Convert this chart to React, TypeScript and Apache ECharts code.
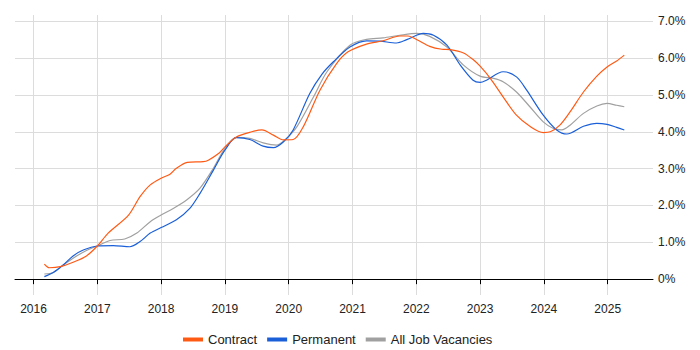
import React, { useEffect, useRef } from "react";
import * as echarts from "echarts";

const yearTicks = [2016, 2017, 2018, 2019, 2020, 2021, 2022, 2023, 2024, 2025];
const percentTicks = [0, 1, 2, 3, 4, 5, 6, 7];

const contract: [number, number][] = [
  [2016.17, 0.41], [2016.25, 0.31], [2016.42, 0.34], [2016.65, 0.48], [2016.83, 0.63],
  [2017.0, 0.9], [2017.17, 1.25], [2017.49, 1.74], [2017.67, 2.24], [2017.83, 2.56],
  [2018.0, 2.74], [2018.14, 2.85], [2018.24, 3.01], [2018.41, 3.17], [2018.66, 3.19],
  [2018.74, 3.23], [2018.9, 3.41], [2019.0, 3.59], [2019.18, 3.86], [2019.42, 4.0],
  [2019.58, 4.05], [2019.76, 3.91], [2019.92, 3.78], [2020.07, 3.79], [2020.23, 4.14],
  [2020.49, 5.13], [2020.75, 5.85], [2020.93, 6.17], [2021.22, 6.38], [2021.48, 6.47],
  [2021.74, 6.6], [2021.87, 6.6], [2022.01, 6.5], [2022.21, 6.32], [2022.4, 6.24],
  [2022.53, 6.23], [2022.74, 6.14], [2022.89, 5.96], [2023.0, 5.78], [2023.16, 5.45],
  [2023.36, 4.95], [2023.57, 4.45], [2023.78, 4.15], [2023.99, 3.98], [2024.1, 4.0],
  [2024.25, 4.18], [2024.41, 4.54], [2024.62, 5.08], [2024.83, 5.51], [2024.99, 5.76],
  [2025.14, 5.92], [2025.26, 6.08],
];

const permanent: [number, number][] = [
  [2016.17, 0.07], [2016.31, 0.18], [2016.47, 0.39], [2016.62, 0.63], [2016.78, 0.79],
  [2017.0, 0.9], [2017.25, 0.91], [2017.51, 0.88], [2017.67, 1.02], [2017.83, 1.25],
  [2018.0, 1.4], [2018.24, 1.61], [2018.45, 1.92], [2018.61, 2.33], [2018.82, 2.96],
  [2019.0, 3.5], [2019.18, 3.84], [2019.39, 3.79], [2019.6, 3.61], [2019.76, 3.57],
  [2019.92, 3.73], [2020.07, 4.05], [2020.33, 5.04], [2020.52, 5.56], [2020.7, 5.9],
  [2020.96, 6.3], [2021.22, 6.47], [2021.43, 6.46], [2021.69, 6.41], [2021.85, 6.5],
  [2022.11, 6.67], [2022.27, 6.62], [2022.48, 6.35], [2022.69, 5.81], [2022.89, 5.4],
  [2023.0, 5.34], [2023.1, 5.4], [2023.36, 5.63], [2023.57, 5.49], [2023.73, 5.13],
  [2023.99, 4.45], [2024.2, 4.05], [2024.36, 3.94], [2024.62, 4.15], [2024.83, 4.23],
  [2024.99, 4.2], [2025.14, 4.12], [2025.26, 4.05],
];

const allJobs: [number, number][] = [
  [2016.17, 0.14], [2016.31, 0.18], [2016.47, 0.39], [2016.62, 0.57], [2016.83, 0.78],
  [2017.0, 0.9], [2017.2, 1.05], [2017.43, 1.09], [2017.62, 1.25], [2017.83, 1.56],
  [2018.0, 1.74], [2018.19, 1.92], [2018.4, 2.15], [2018.61, 2.47], [2018.82, 3.01],
  [2019.0, 3.55], [2019.18, 3.85], [2019.39, 3.82], [2019.6, 3.7], [2019.81, 3.64],
  [2019.94, 3.78], [2020.13, 4.14], [2020.39, 4.95], [2020.6, 5.63], [2020.96, 6.35],
  [2021.22, 6.51], [2021.48, 6.55], [2021.74, 6.62], [2022.01, 6.67], [2022.21, 6.59],
  [2022.48, 6.3], [2022.74, 5.81], [2023.0, 5.51], [2023.21, 5.45], [2023.36, 5.36],
  [2023.57, 5.08], [2023.78, 4.68], [2023.99, 4.27], [2024.15, 4.09], [2024.28, 4.05],
  [2024.41, 4.18], [2024.62, 4.5], [2024.83, 4.7], [2024.99, 4.77], [2025.14, 4.72],
  [2025.26, 4.68],
];

const FONT = "'Liberation Sans', Arial, sans-serif";

export default function App() {
  const ref = useRef<HTMLDivElement>(null);
  useEffect(() => {
    if (!ref.current) return;
    const chart = echarts.init(ref.current, undefined, { renderer: "svg" });
    const mk = (name: string, color: string, data: [number, number][]) => ({
      name,
      type: "line",
      data,
      smooth: 0.3,
      showSymbol: false,
      symbol: "none",
      lineStyle: { color, width: 1.2 },
      itemStyle: { color },
    });
    chart.setOption({
      animation: false,
      grid: { left: 15, right: 47, top: 15, bottom: 55 },
      legend: {
        left: 178,
        top: 328,
        icon: "rect",
        itemWidth: 20,
        itemHeight: 4,
        itemGap: 10,
        textStyle: { fontFamily: FONT, fontSize: 13, color: "#222" },
        data: ["Contract", "Permanent", "All Job Vacancies"],
      },
      xAxis: {
        type: "value",
        min: 2015.71,
        max: 2025.71,
        axisLine: { show: true, lineStyle: { color: "#000", width: 1 } },
        axisTick: { show: true, length: 5, lineStyle: { color: "#000" }, customValues: yearTicks },
        axisLabel: {
          customValues: yearTicks,
          formatter: (v: number) => String(Math.round(v)),
          fontFamily: FONT,
          fontSize: 12,
          color: "#222",
          margin: 8,
        },
        splitLine: { show: true, lineStyle: { color: "#dcdcdc", width: 1 } },
      },
      yAxis: {
        type: "value",
        position: "right",
        min: -0.43,
        max: 7.17,
        axisLine: { show: false },
        axisTick: { show: false, customValues: percentTicks },
        axisLabel: {
          customValues: percentTicks,
          formatter: (v: number) => (v === 0 ? "0%" : v.toFixed(1) + "%"),
          fontFamily: FONT,
          fontSize: 12,
          color: "#222",
          margin: 5,
          align: "left",
        },
        splitLine: { show: true, lineStyle: { color: "#dcdcdc", width: 1 } },
      },
      series: [
        mk("All Job Vacancies", "#a0a0a0", allJobs),
        mk("Permanent", "#1a5fd8", permanent),
        mk("Contract", "#ff5a14", contract),
      ],
    });
    return () => chart.dispose();
  }, []);
  return (
    <div
      ref={ref}
      style={{ position: "fixed", left: 0, top: 0, width: 700, height: 350, background: "#fff" }}
    />
  );
}
